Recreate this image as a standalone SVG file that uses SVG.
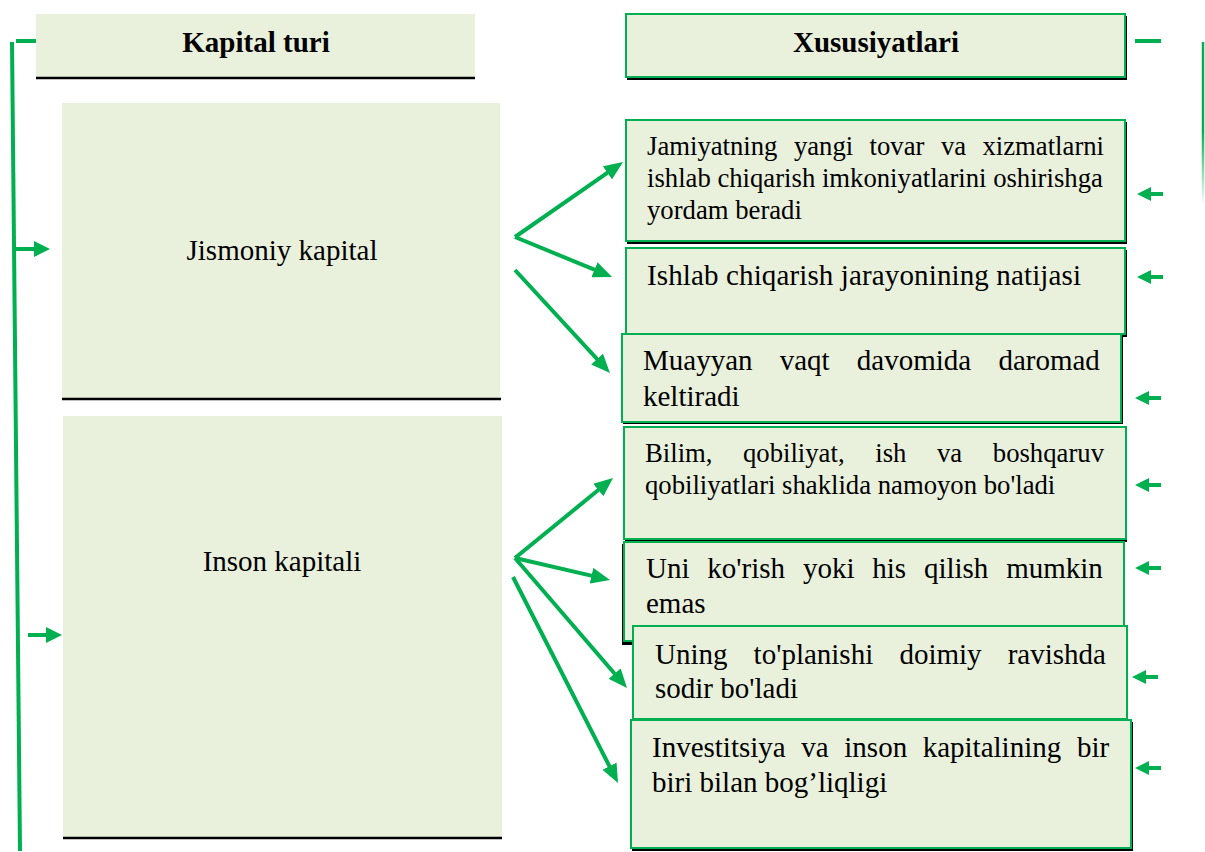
<svg xmlns="http://www.w3.org/2000/svg" width="1205" height="852" viewBox="0 0 1205 852">
<style>
.fill{fill:#e9f0dc}
.bx{fill:#e9f0dc;stroke:#00b050;stroke-width:2}
.sh{fill:#000}
.bl{stroke:#000;stroke-width:2.5}
.t{font-family:"Liberation Serif","Times New Roman",serif;fill:#000}
.b29{font-size:29px}
.s27{font-size:26.7px}
.hd{font-size:29px;font-weight:bold}
.g{stroke:#00b050;fill:none;stroke-width:4}
</style>
<defs>
<marker id="head" markerUnits="userSpaceOnUse" viewBox="0 0 19 16" markerWidth="19" markerHeight="16" refX="13" refY="8" orient="auto"><path d="M0,0 L19,8 L0,16 z" fill="#00b050"/></marker>
<marker id="headS" markerUnits="userSpaceOnUse" viewBox="0 0 14 14" markerWidth="14" markerHeight="14" refX="9" refY="7" orient="auto"><path d="M0,0 L14,7 L0,14 z" fill="#00b050"/></marker>
<marker id="headL" markerUnits="userSpaceOnUse" viewBox="0 0 16 16" markerWidth="16" markerHeight="16" refX="10" refY="8" orient="auto"><path d="M0,0 L16,8 L0,16 z" fill="#00b050"/></marker>
<linearGradient id="fade" x1="0" y1="42" x2="0" y2="205" gradientUnits="userSpaceOnUse"><stop offset="0" stop-color="#00b050"/><stop offset="0.55" stop-color="#00b050"/><stop offset="1" stop-color="#00b050" stop-opacity="0"/></linearGradient>
</defs>

<g id="kapital-turi">
<rect class="fill" x="36" y="14" width="439" height="63"/>
<line class="bl" x1="36" y1="78" x2="475" y2="78"/>
<text class="t hd" x="256" y="52" text-anchor="middle">Kapital turi</text>
</g>

<g id="jismoniy">
<rect class="fill" x="62" y="103" width="438" height="295"/>
<line class="bl" x1="62" y1="399" x2="501" y2="399"/>
<text class="t b29" x="282" y="260" text-anchor="middle">Jismoniy kapital</text>
</g>

<g id="inson">
<rect class="fill" x="63" y="416" width="439" height="421"/>
<line class="bl" x1="63" y1="838" x2="502" y2="838"/>
<text class="t b29" x="282" y="571" text-anchor="middle">Inson kapitali</text>
</g>

<g id="xususiyatlari">
<rect class="sh" x="627" y="16" width="500" height="64"/>
<rect class="bx" x="626" y="14" width="499" height="63"/>
<text class="t hd" x="876" y="52" text-anchor="middle">Xususiyatlari</text>
</g>

<g id="box1">
<rect class="sh" x="627" y="122" width="500" height="122"/>
<rect class="bx" x="626" y="120" width="499" height="121"/>
<text class="t s27" y="155"><tspan x="647">Jamiyatning</tspan><tspan x="793.9">yangi</tspan><tspan x="869.6">tovar</tspan><tspan x="940.9">va</tspan><tspan x="982.5">xizmatlarni</tspan></text>
<text class="t s27" x="647" y="187">ishlab chiqarish imkoniyatlarini oshirishga</text>
<text class="t s27" x="647" y="219">yordam beradi</text>
</g>

<g id="box2">
<rect class="sh" x="627" y="250" width="500" height="87"/>
<rect class="bx" x="626" y="248" width="499" height="86"/>
<text class="t b29" x="647" y="285" textLength="434" lengthAdjust="spacing">Ishlab chiqarish jarayonining natijasi</text>
</g>

<g id="box3">
<rect class="sh" x="623" y="336" width="500" height="88"/>
<rect class="bx" x="622" y="334" width="499" height="88"/>
<text class="t b29" y="370"><tspan x="643">Muayyan</tspan><tspan x="779.7">vaqt</tspan><tspan x="856.8">davomida</tspan><tspan x="998.4">daromad</tspan></text>
<text class="t b29" x="643" y="406">keltiradi</text>
</g>

<g id="box4">
<rect class="sh" x="625" y="429" width="502" height="113"/>
<rect class="bx" x="624" y="427" width="502" height="112"/>
<text class="t s27" y="462"><tspan x="645">Bilim,</tspan><tspan x="743">qobiliyat,</tspan><tspan x="875.3">ish</tspan><tspan x="937">va</tspan><tspan x="992.8">boshqaruv</tspan></text>
<text class="t s27" x="645" y="494">qobiliyatlari shaklida namoyon bo'ladi</text>
</g>

<g id="box5">
<rect class="sh" x="622" y="544" width="502" height="101"/>
<rect class="bx" x="624" y="542" width="500" height="99"/>
<text class="t b29" y="578"><tspan x="646">Uni</tspan><tspan x="707.3">ko'rish</tspan><tspan x="802.9">yoki</tspan><tspan x="872.3">his</tspan><tspan x="923.9">qilish</tspan><tspan x="1006.2">mumkin</tspan></text>
<text class="t b29" x="646" y="613">emas</text>
</g>

<g id="box6">
<rect class="sh" x="634" y="628" width="494" height="93"/>
<rect class="bx" x="633" y="626" width="494" height="93"/>
<text class="t b29" y="664"><tspan x="655">Uning</tspan><tspan x="753.6">to'planishi</tspan><tspan x="899.4">doimiy</tspan><tspan x="1007.7">ravishda</tspan></text>
<text class="t b29" x="655" y="698">sodir bo'ladi</text>
</g>

<g id="box7">
<rect class="sh" x="632" y="722" width="501" height="129"/>
<rect class="bx" x="631" y="720" width="500" height="128"/>
<text class="t b29" y="757"><tspan x="652">Investitsiya</tspan><tspan x="801.3">va</tspan><tspan x="844.3">inson</tspan><tspan x="922.7">kapitalining</tspan><tspan x="1076.9">bir</tspan></text>
<text class="t b29" x="652" y="792">biri bilan bog’liqligi</text>
</g>

<g id="connectors">
<line class="g" stroke-width="3" x1="16" y1="41" x2="36" y2="41"/>
<line class="g" stroke-width="3" x1="12" y1="42" x2="20" y2="851"/>
<line class="g" x1="16" y1="249" x2="44" y2="249" marker-end="url(#headL)"/>
<line class="g" x1="28" y1="635" x2="56" y2="635" marker-end="url(#headL)"/>
<line class="g" stroke-width="3" x1="1135" y1="41" x2="1161" y2="41"/>
<line stroke="url(#fade)" stroke-width="2.5" x1="1203" y1="42" x2="1203" y2="205"/>
<line class="g" x1="1163" y1="194" x2="1142" y2="194" marker-end="url(#headS)"/>
<line class="g" x1="1163" y1="277" x2="1142" y2="277" marker-end="url(#headS)"/>
<line class="g" x1="1161" y1="398" x2="1140" y2="398" marker-end="url(#headS)"/>
<line class="g" x1="1161" y1="485" x2="1140" y2="485" marker-end="url(#headS)"/>
<line class="g" x1="1161" y1="568" x2="1140" y2="568" marker-end="url(#headS)"/>
<line class="g" x1="1158" y1="677" x2="1137" y2="677" marker-end="url(#headS)"/>
<line class="g" x1="1161" y1="768" x2="1140" y2="768" marker-end="url(#headS)"/>
<line class="g" x1="515" y1="237" x2="618.1" y2="165.4" marker-end="url(#head)"/>
<line class="g" x1="515" y1="237" x2="606.5" y2="274.7" marker-end="url(#head)"/>
<line class="g" x1="515" y1="270" x2="605.9" y2="368.6" marker-end="url(#head)"/>
<line class="g" x1="515" y1="558" x2="608.4" y2="481.8" marker-end="url(#head)"/>
<line class="g" x1="515" y1="558" x2="604.2" y2="578.6" marker-end="url(#head)"/>
<line class="g" x1="515" y1="558" x2="623.1" y2="683.5" marker-end="url(#head)"/>
<line class="g" x1="513" y1="577" x2="615.3" y2="777.7" marker-end="url(#head)"/>
</g>
</svg>
